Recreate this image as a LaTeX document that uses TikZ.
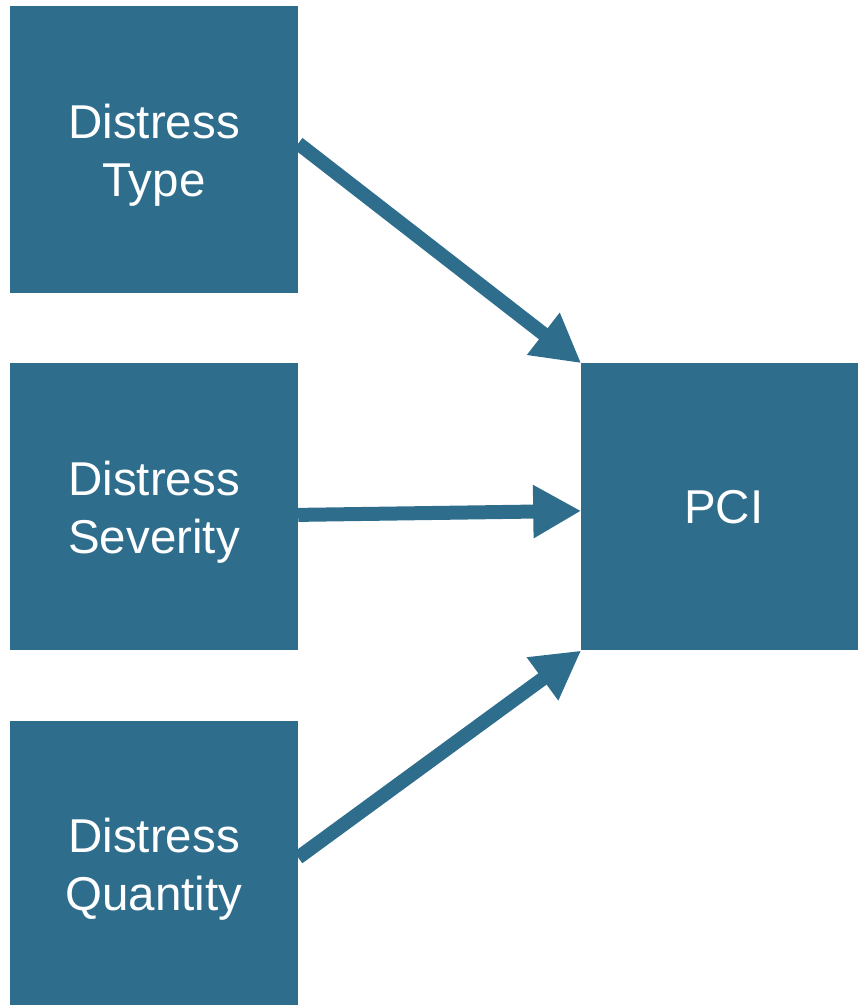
\documentclass[tikz,border=0pt]{standalone}
\usepackage{fontspec}
\setmainfont{Liberation Sans}
\usepackage{xcolor}
\usetikzlibrary{arrows.meta,positioning}
\definecolor{pcibox}{HTML}{2E6E8C}

\begin{document}
\begin{tikzpicture}
	[x=1pt, y=1pt, font=\fontsize{47.5}{58}\selectfont,
	% STYLES
	% The factor style is used to draw the input boxes
	factor/.style={rectangle, fill=pcibox, text=white, inner sep=0pt, minimum width=288pt, minimum height=287pt, align=center, text height=103pt},
	% The result style is used to draw the index box
	result/.style={rectangle, fill=pcibox, text=white, inner sep=0pt, minimum width=277pt, minimum height=287pt, align=center},
	% The link style is used to draw the thick arrows
	link/.style={draw=pcibox, line width=14pt, -{Triangle[length=48pt,width=50pt]}}]

	\useasboundingbox (0,0) rectangle (858,1005);

	% left boxes
	\node [factor] (Type) at (154,855.5) {Distress\\Type};
	\node [factor, below = 70pt of Type] (Severity) {Distress\\Severity};
	\node [factor, below = 70pt of Severity] (Quantity) {Distress\\Quantity};
	% right box
	\node [result, right = 283pt of Severity] (PCI) {\hspace*{8pt}PCI};

	% Draw the links into the PCI box
	\path [link] ([yshift=6pt]Type.east) -- (PCI.north west);
	\path [link] ([yshift=-8pt]Severity.east) -- ([yshift=-4pt]PCI.west);
	\path [link] ([yshift=-137pt]Quantity.north east) -- (PCI.south west);

\end{tikzpicture}
\end{document}
